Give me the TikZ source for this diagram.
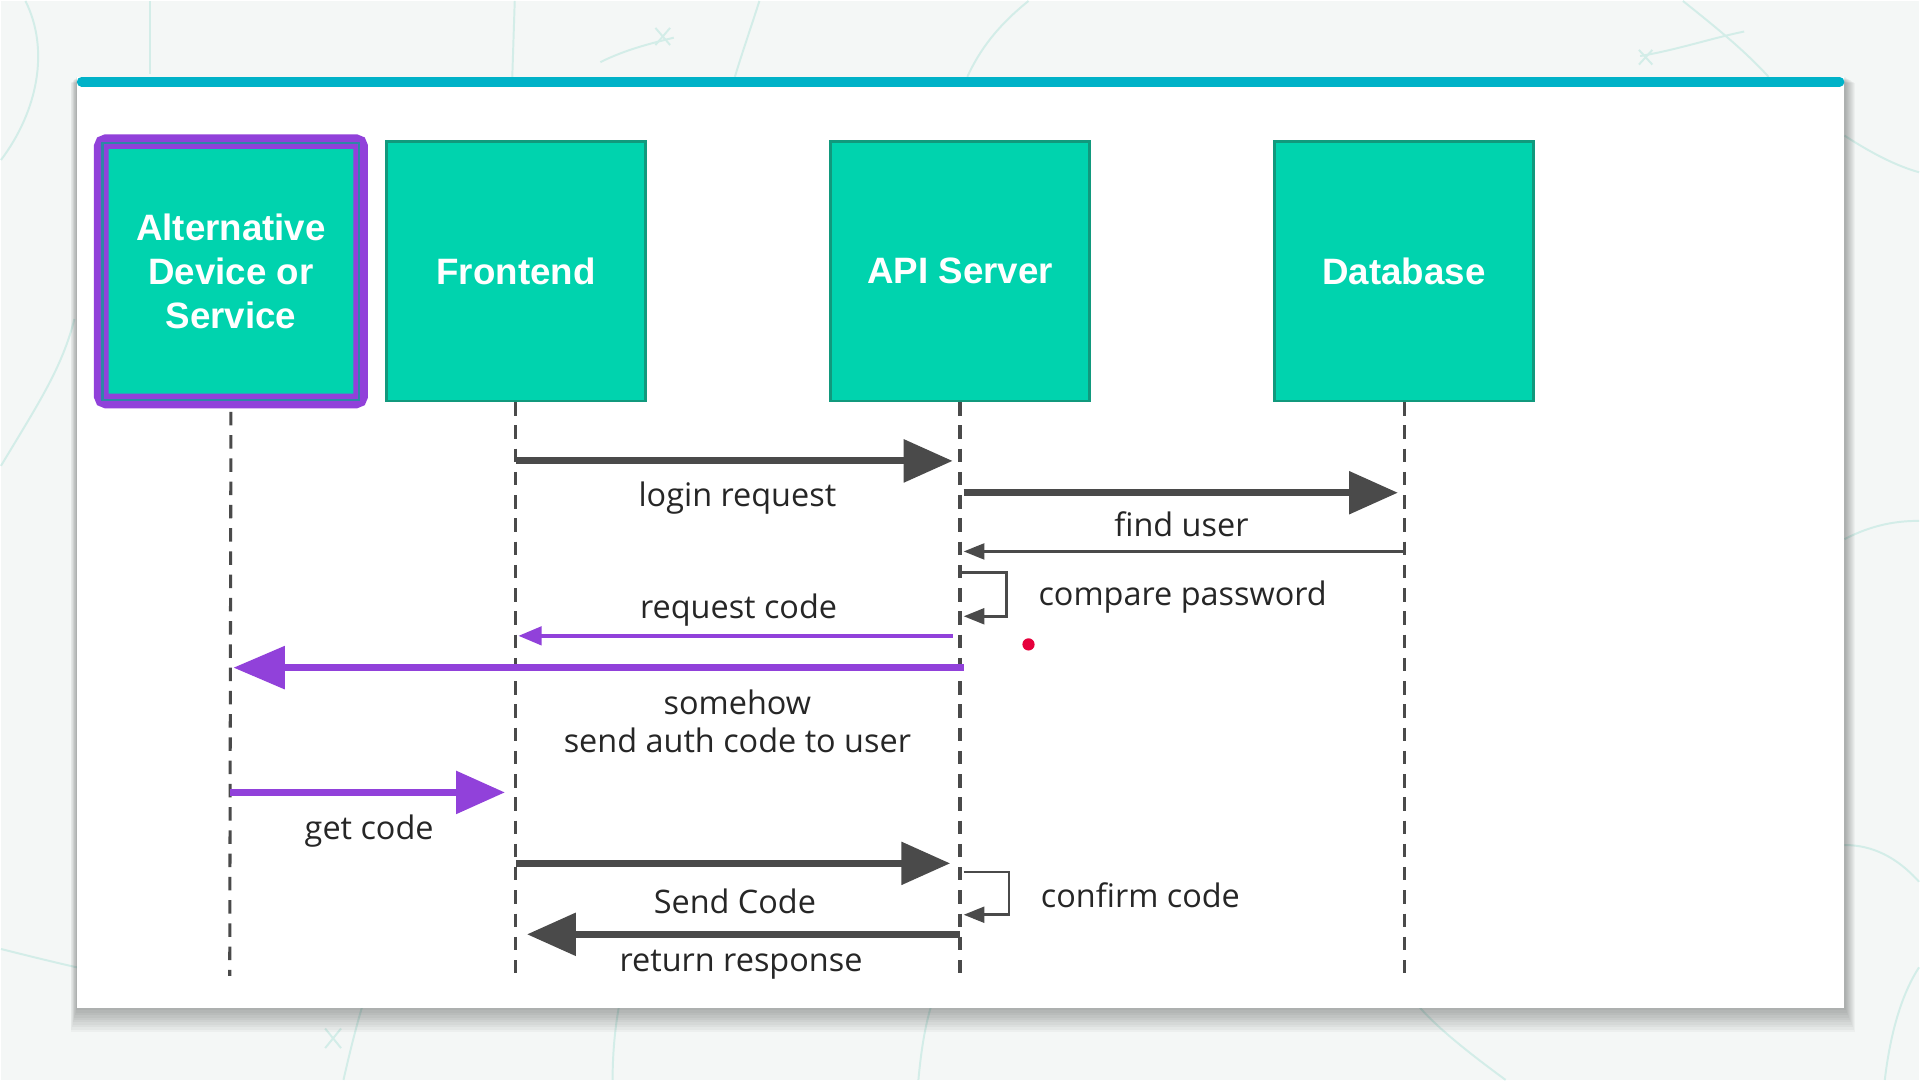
\documentclass[tikz,border=0pt]{standalone}
\usepackage{fontspec}
\setmainfont{Open Sans}
\newfontfamily\boxfont{Liberation Sans}
\usetikzlibrary{arrows.meta}
\definecolor{pagebg}{HTML}{F4F7F6}
\definecolor{tealfill}{HTML}{00D3AE}
\definecolor{tealedge}{HTML}{11997D}
\definecolor{barblue}{HTML}{00B2C8}
\definecolor{purp}{HTML}{9141DA}
\definecolor{darkarrow}{HTML}{4A4A4A}
\definecolor{txt}{HTML}{262626}
\definecolor{deco}{HTML}{D3EDE8}
\definecolor{reddot}{HTML}{E6003C}
\definecolor{innerline}{HTML}{2F86A6}
\begin{document}
\begin{tikzpicture}[x=1pt,y=-1pt,
  actor/.style={draw=tealedge, line width=2pt, fill=tealfill, minimum width=212pt, minimum height=212pt, inner sep=0pt, text=white, font=\boxfont\bfseries\fontsize{30}{36}\selectfont, align=center},
  lifeline/.style={draw=darkarrow, line width=2.5pt, dash pattern=on 11pt off 8pt},
  bigmsg/.style={line width=5.8pt, -{Triangle[length=40pt,width=34pt]}},
  smallmsg/.style={line width=2.2pt, -{Triangle[length=17pt,width=13pt]}},
  lbl/.style={text=txt, font=\fontsize{26.5}{31}\selectfont, inner sep=0pt, align=center},
]
% page and decorations
\fill[pagebg] (0,0) rectangle (1568,882);
\begin{scope}[draw=deco, line width=1.6pt]
  \draw (0,130) .. controls (30,90) and (40,40) .. (20,0);
  \draw (0,380) .. controls (30,330) and (50,300) .. (60,260);
  \draw (122,0) -- (122,60);
  \draw (620,0) .. controls (612,25) and (605,45) .. (600,62);
  \draw (840,0) .. controls (815,20) and (800,40) .. (790,62);
  \draw (420,0) -- (418,62);
  \draw (490,50) .. controls (510,40) and (530,35) .. (550,30);
  \draw (535,22) -- (547,36); \draw (547,22) -- (535,36);
  \draw (1375,0) .. controls (1400,20) and (1425,40) .. (1445,62);
  \draw (1340,45) .. controls (1370,40) and (1400,30) .. (1425,25);
  \draw (1339,40) -- (1350,52); \draw (1350,40) -- (1339,52);
  \draw (1507,110) .. controls (1530,125) and (1550,135) .. (1568,140);
  \draw (1507,440) .. controls (1530,428) and (1550,425) .. (1568,425);
  \draw (1507,690) .. controls (1530,690) and (1550,700) .. (1568,720);
  \draw (1540,882) .. controls (1545,840) and (1555,810) .. (1568,790);
  \draw (0,775) .. controls (20,780) and (40,785) .. (62,790);
  \draw (280,882) .. controls (285,860) and (290,840) .. (295,823);
  \draw (265,840) -- (278,856); \draw (278,840) -- (265,856);
  \draw (500,882) .. controls (500,860) and (502,840) .. (505,823);
  \draw (750,882) .. controls (752,860) and (755,840) .. (760,823);
  \draw (1230,882) .. controls (1200,860) and (1175,840) .. (1160,823);
\end{scope}
% card shadow
\foreach \i in {1,...,10}
  \fill[black, opacity=0.03] (62-\i*0.5,62+\i*0.5) rectangle (1507+\i*0.9,823+\i*2.0);
\fill[white] (62,62) rectangle (1507,823);
\draw[barblue, line width=8pt, line cap=round] (66,66) -- (1503,66);
% actors
\node[actor] (fe) at (421,221) {Frontend};
\node[actor] (api) at (784,221) {API Server};
\node[actor] (db) at (1147,221) {Database};
\node[actor, draw=purp, line width=12pt, rounded corners=4pt, minimum width=212pt, minimum height=212pt] (alt) at (188,221) {Alternative\\Device or\\Service};
\draw[innerline, line width=1.8pt] ([shift={(7,-7)}]alt.south west) rectangle ([shift={(-7,7)}]alt.north east);
% lifeline ends
\coordinate (altend) at (187,797);
\coordinate (feend) at (421,797);
\coordinate (apiend) at (784,797);
\coordinate (dbend) at (1147,797);
\draw[lifeline] (alt.south |- 0,336) -- (altend);
\draw[lifeline] (fe.south) -- (feend);
\draw[lifeline] (api.south) -- (apiend);
\draw[lifeline] (db.south) -- (dbend);
% message anchors
\coordinate (m1a) at (421,376); \coordinate (m1b) at (778,376);
\coordinate (m2a) at (787,402); \coordinate (m2b) at (1142,402);
\coordinate (m3a) at (1147,450); \coordinate (m3b) at (787,450);
\coordinate (l1a) at (784,467); \coordinate (l1b) at (822,467); \coordinate (l1c) at (822,503); \coordinate (l1d) at (787,503);
\coordinate (m4a) at (778,519); \coordinate (m4b) at (423,519);
\coordinate (m5a) at (787,545); \coordinate (m5b) at (190,545);
\coordinate (m6a) at (187,647); \coordinate (m6b) at (412,647);
\coordinate (m7a) at (421,705); \coordinate (m7b) at (776,705);
\coordinate (l2a) at (787,712); \coordinate (l2b) at (824,712); \coordinate (l2c) at (824,747); \coordinate (l2d) at (787,747);
\coordinate (m8a) at (784,763); \coordinate (m8b) at (430,763);
% messages
\draw[bigmsg, darkarrow] (m1a) -- (m1b);
\draw[bigmsg, darkarrow] (m2a) -- (m2b);
\draw[smallmsg, darkarrow] (m3a) -- (m3b);
\draw[smallmsg, darkarrow] (l1a) -- (l1b) -- (l1c) -- (l1d);
\draw[line width=3pt, purp, -{Triangle[length=19pt,width=15pt]}] (m4a) -- (m4b);
\draw[bigmsg, purp, -{Triangle[length=42pt,width=34pt]}] (m5a) -- (m5b);
\draw[bigmsg, purp] (m6a) -- (m6b);
\draw[bigmsg, darkarrow] (m7a) -- (m7b);
\draw[smallmsg, darkarrow] (l2a) -- (l2b) -- (l2c) -- (l2d);
\draw[bigmsg, darkarrow] (m8a) -- (m8b);
% labels
\node[lbl] (t1) at (602,406) {login request};
\node[lbl] (t2) at (965,428) {find user};
\node[lbl, anchor=west] (t3) at (848,487) {compare password};
\node[lbl] (t4) at (603,498) {request code};
\node[lbl] (t5) at (602,589) {somehow\\send auth code to user};
\node[lbl] (t6) at (301,679) {get code};
\node[lbl] (t7) at (600,736) {Send Code};
\node[lbl, anchor=west] (t8) at (850,731) {confirm code};
\node[lbl] (t9) at (605,788) {return response};
% pointer dot
\fill[reddot] (840,526) circle (5pt);
\useasboundingbox (0,0) rectangle (1568,882);
\end{tikzpicture}
\end{document}
